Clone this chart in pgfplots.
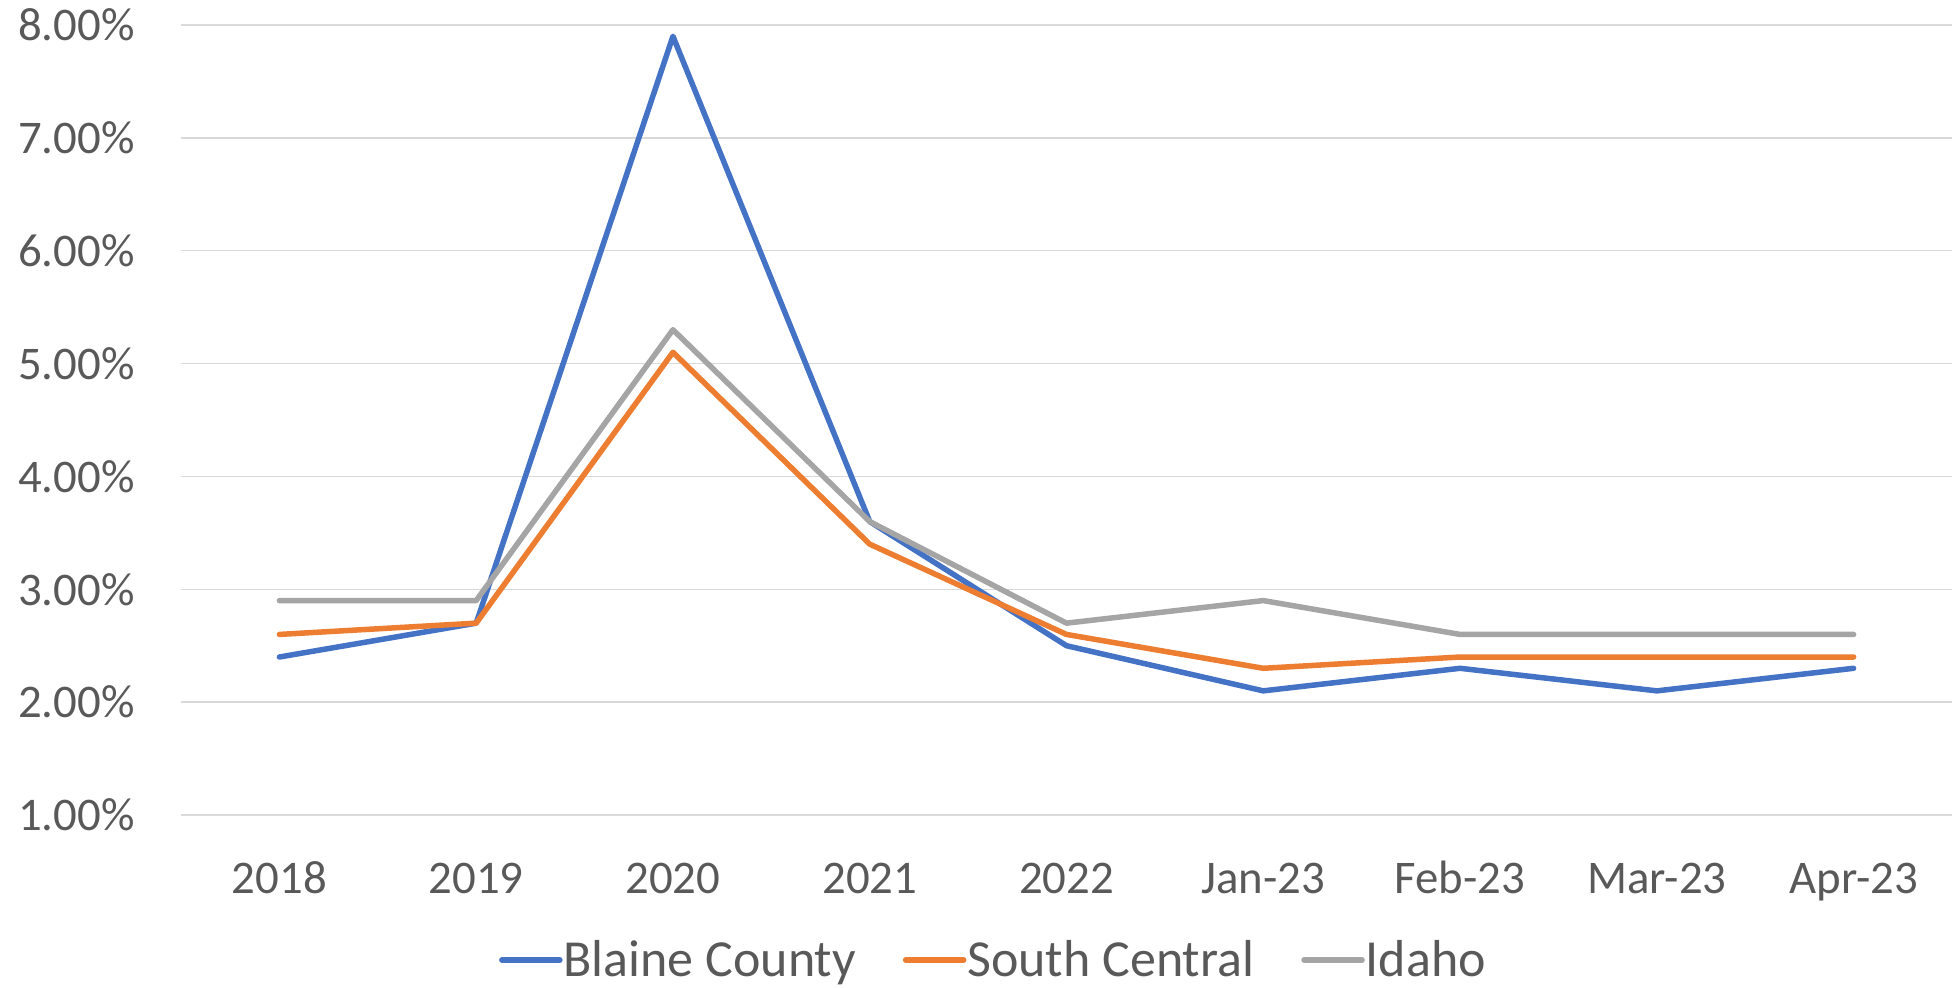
\documentclass[border=0pt]{standalone}
\usepackage{fontspec}
\setmainfont{Carlito}
\usepackage{pgfplots}
\pgfplotsset{compat=1.18}
\definecolor{cBlue}{HTML}{4472C4}
\definecolor{cOrange}{HTML}{ED7D31}
\definecolor{cGray}{HTML}{A5A5A5}
\definecolor{cText}{HTML}{595959}
\definecolor{cGrid}{HTML}{D9D9D9}
\begin{document}
\begin{tikzpicture}
\path[use as bounding box] (0,0) rectangle (976pt,493.5pt);
\begin{axis}[
  at={(90.5pt,86pt)}, anchor=south west,
  scale only axis,
  width=885.5pt, height=395pt,
  xmin=-0.5, xmax=8.5,
  ymin=1, ymax=8,
  xtick={0,...,8},
  xticklabels={2018,2019,2020,2021,2022,Jan-23,Feb-23,Mar-23,Apr-23},
  ytick={1,...,8},
  yticklabels={1.00\%,2.00\%,3.00\%,4.00\%,5.00\%,6.00\%,7.00\%,8.00\%},
  ymajorgrids,
  grid style={draw=cGrid, line width=0.75pt},
  axis line style={draw=none},
  major tick length=0pt,
  tick style={draw=none},
  ticklabel style={font=\fontsize{23.4}{28}\selectfont, text=cText, inner sep=0pt},
  xticklabel style={anchor=base, yshift=-39pt},
  yticklabel style={anchor=east, xshift=-23pt},
  legend columns=3,
  legend style={at={(0.4585,-0.1835)}, anchor=center, draw=none, fill=none,
    font=\fontsize{26}{31}\selectfont, text=cText,
    /tikz/every even column/.append style={column sep=23pt},
    nodes={inner sep=0.5pt}},
  legend image code/.code={\draw[#1, line width=2.75pt] (0pt,0pt) -- (29pt,0pt);},
  every axis plot/.append style={line width=2.75pt, line join=round, line cap=round, mark=none},
]
\addplot[cBlue] coordinates {(0,2.4) (1,2.7) (2,7.9) (3,3.6) (4,2.5) (5,2.1) (6,2.3) (7,2.1) (8,2.3)};
\addlegendentry{Blaine County}
\addplot[cOrange] coordinates {(0,2.6) (1,2.7) (2,5.1) (3,3.4) (4,2.6) (5,2.3) (6,2.4) (7,2.4) (8,2.4)};
\addlegendentry{South Central}
\addplot[cGray] coordinates {(0,2.9) (1,2.9) (2,5.3) (3,3.6) (4,2.7) (5,2.9) (6,2.6) (7,2.6) (8,2.6)};
\addlegendentry{Idaho}
\end{axis}
\end{tikzpicture}
\end{document}
